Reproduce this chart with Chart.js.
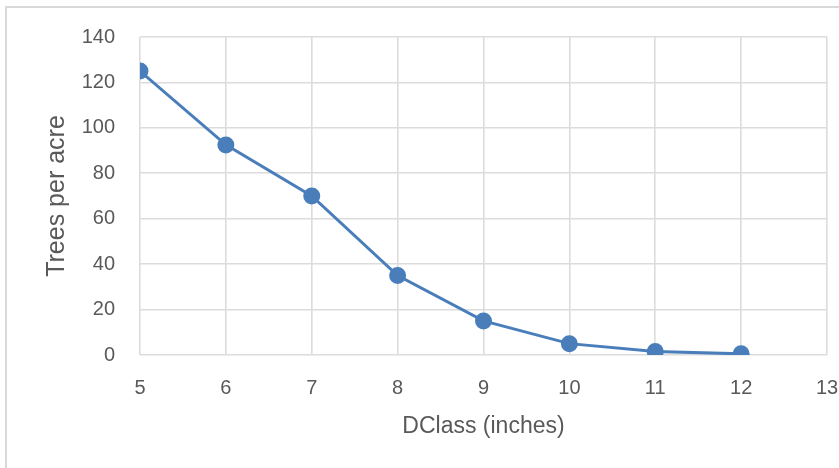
<!DOCTYPE html>
<html>
<head>
<meta charset="utf-8">
<script src="https://cdn.jsdelivr.net/npm/chart.js@4"></script>
<style>
  html, body { margin: 0; padding: 0; background: #ffffff; }
  #wrap { position: relative; width: 839px; height: 468px; }
</style>
</head>
<body>
<div id="wrap"><canvas id="c" width="839" height="468"></canvas></div>
<script>
// Diameter classes (inches) and stand density per class
const dClass = [5, 6, 7, 8, 9, 10, 11, 12];
const treesPerAcre = [125, 92.5, 70, 35, 15, 5, 1.5, 0.5];
const xTicks = [5, 6, 7, 8, 9, 10, 11, 12, 13];
const yTicks = [0, 20, 40, 60, 80, 100, 120, 140];

const lineColor = '#4a7ebb';
const gridColor = '#dcdcdc';
const textColor = '#595959';
const fontFamily = '"Liberation Sans", Arial, sans-serif';

// Light frame around the chart object
const framePlugin = {
  id: 'frame',
  beforeDraw(chart) {
    const ctx = chart.ctx;
    ctx.save();
    ctx.fillStyle = '#ffffff';
    ctx.fillRect(0, 0, chart.width, chart.height);
    ctx.strokeStyle = '#d9d9d9';
    ctx.lineWidth = 2;
    ctx.strokeRect(6, 7, 840, 480);
    ctx.restore();
  }
};

new Chart(document.getElementById('c'), {
  type: 'line',
  data: {
    datasets: [{
      data: dClass.map((x, i) => ({ x: x, y: treesPerAcre[i] })),
      borderColor: lineColor,
      backgroundColor: lineColor,
      borderWidth: 3,
      pointRadius: 7,
      pointHoverRadius: 7,
      pointBackgroundColor: lineColor,
      pointBorderColor: lineColor,
      tension: 0
    }]
  },
  options: {
    responsive: false,
    animation: false,
    layout: { padding: { left: 0, right: 12, top: 35, bottom: 0 } },
    plugins: {
      legend: { display: false },
      tooltip: { enabled: false }
    },
    scales: {
      x: {
        type: 'linear',
        min: 5,
        max: 13,
        afterBuildTicks(scale) { scale.ticks = xTicks.map(v => ({ value: v })); },
        afterFit(scale) {
          scale.height = 113;
          scale.paddingLeft = 0;
          scale.paddingRight = 0;
        },
        grid: { color: gridColor, lineWidth: 1.6, drawTicks: false },
        border: { display: false },
        ticks: { color: textColor, font: { family: fontFamily, size: 20 }, padding: 21, maxRotation: 0 },
        title: {
          display: true,
          text: 'DClass (inches)',
          color: textColor,
          font: { family: fontFamily, size: 23 },
          padding: { top: 0, bottom: 28 }
        }
      },
      y: {
        min: 0,
        max: 140,
        afterBuildTicks(scale) { scale.ticks = yTicks.map(v => ({ value: v })); },
        afterFit(scale) { scale.width = 140; },
        grid: { color: gridColor, lineWidth: 1.6, drawTicks: false },
        border: { display: false },
        ticks: { color: textColor, font: { family: fontFamily, size: 20 }, padding: 25 },
        title: {
          display: true,
          text: 'Trees per acre',
          color: textColor,
          font: { family: fontFamily, size: 25 },
          padding: { top: 42, bottom: 0 }
        }
      }
    }
  },
  plugins: [framePlugin]
});
</script>
</body>
</html>
